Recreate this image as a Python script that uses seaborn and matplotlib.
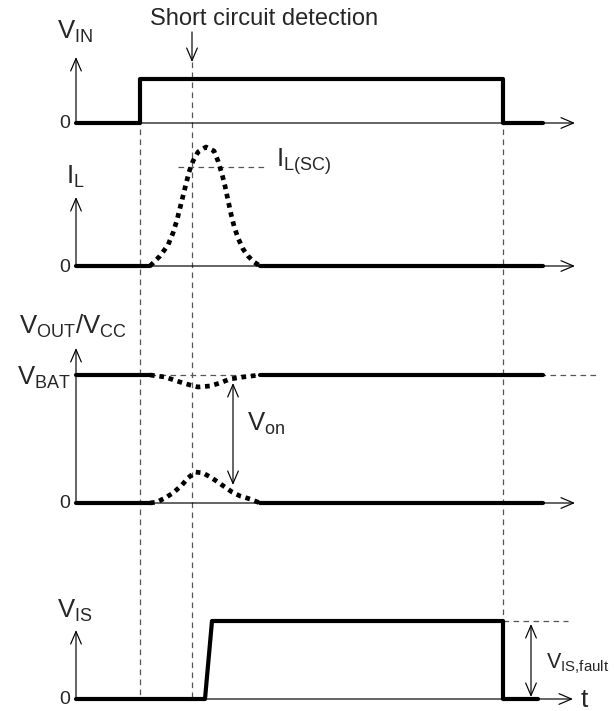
import seaborn as sns
import matplotlib.pyplot as plt
import numpy as np

# time marks (px from the t-axis origin): VIN on, short circuit detected, VIN off, trace end
T_ON, T_DET, T_OFF, T_END = 64, 116, 427, 467

# VIN step
vin_t = [0, T_ON, T_ON, T_OFF, T_OFF, T_END]
vin_v = [0, 0, 44, 44, 0, 0]

# IL short-circuit current pulse (dotted part)
il_t = [74, 84, 92, 97, 101, 104, 107, 110, 113, 117, 122, 130,
        138, 142, 146, 149, 152, 155, 158, 162, 167, 172, 178, 184]
il_v = [0, 10, 21, 33, 46, 58, 70, 82, 94, 105, 114, 119,
        115, 105, 92, 80, 66, 52, 40, 28, 17, 10, 4, 0]
il_sc = 99

# VOUT / VCC
vbat = 128
vout_dip_t = [74, 89, 104, 114, 122, 134, 144, 154, 167, 184]
vout_dip_v = [0, 2, 7, 10, 12, 11, 8, 4, 2, 0]
vcc_t = [74, 81, 89, 97, 106, 112, 119, 127, 136, 146, 156, 164, 174, 184]
vcc_v = [0, 1, 5, 10, 18, 25, 31, 30, 25, 18, 11, 7, 4, 0]

# VIS fault signal
vis_t = [0, 129, 136, T_OFF, T_OFF, T_END - 5]
vis_v = [0, 0, 78, 78, 0, 0]

sns.set_theme(style='white')
plt.rcParams['font.family'] = ['Liberation Sans', 'DejaVu Sans']
plt.rcParams['mathtext.fontset'] = 'custom'
plt.rcParams['mathtext.rm'] = 'Liberation Sans'
plt.rcParams['mathtext.it'] = 'Liberation Sans:italic'

fig = plt.figure(figsize=(6.14, 7.11), dpi=100)
ax = fig.add_axes([0, 0, 1, 1])
ax.set_xlim(0, 614)
ax.set_ylim(711, 0)
ax.axis('off')

X0 = 76
B_VIN, B_IL, B_OUT, B_IS = 123, 266, 503, 699
THICK = 3.0
THIN = 0.85
GREY = '#555555'
DASH = dict(color=GREY, lw=0.9, dashes=(4.5, 3.5))
DOT = dict(color='black', lw=3.4, linestyle=(0, (1, 1)), dash_capstyle='butt')


def arrow(x1, y1, x2, y2, both=False):
    style = '<->' if both else '->'
    ax.annotate('', xy=(x2, y2), xytext=(x1, y1),
                arrowprops=dict(arrowstyle=f'{style},head_length=0.75,head_width=0.32',
                                color='black', lw=THIN, shrinkA=0, shrinkB=0))


def axes_arrows(base, top, tip=575):
    arrow(X0, base, X0, base - top)
    arrow(X0, base, tip, base)


def wave(t, v, base, **kw):
    sns.lineplot(x=X0 + np.array(t), y=base - np.array(v), ax=ax,
                 sort=False, estimator=None, **kw)


# dashed guides
ax.plot([X0 + T_ON] * 2, [79, 697], **DASH)
ax.plot([X0 + T_DET] * 2, [62, 697], **DASH)
ax.plot([X0 + T_OFF] * 2, [79, 622], **DASH)
ax.plot([X0 + 102, X0 + 191], [B_IL - il_sc] * 2, **DASH)
ax.plot([X0 + 74, X0 + 522], [B_OUT - vbat] * 2, **DASH)
ax.plot([X0 + T_OFF, X0 + 492], [B_IS - vis_v[2]] * 2, **DASH)

# axes
axes_arrows(B_VIN, 66)
axes_arrows(B_IL, 69)
axes_arrows(B_OUT, 155)
axes_arrows(B_IS, 69, tip=573)

# VIN
wave(vin_t, vin_v, B_VIN, color='black', lw=THICK)

# IL
wave([0, 74], [0, 0], B_IL, color='black', lw=THICK)
wave([184, T_END], [0, 0], B_IL, color='black', lw=THICK)
wave(il_t, il_v, B_IL, **DOT)

# VOUT/VCC
for lvl in (0, vbat):
    wave([0, 74], [lvl, lvl], B_OUT, color='black', lw=THICK)
    wave([184, T_END], [lvl, lvl], B_OUT, color='black', lw=THICK)
wave(vout_dip_t, vbat - np.array(vout_dip_v), B_OUT, **DOT)
wave(vcc_t, vcc_v, B_OUT, **DOT)

# VIS
wave(vis_t, vis_v, B_IS, color='black', lw=THICK)

# annotations
arrow(X0 + T_DET, 32, X0 + T_DET, 62)
arrow(X0 + 157, 383, X0 + 157, 485, both=True)
arrow(X0 + 455, 624, X0 + 455, 697, both=True)

FS = 18.5
ax.text(264, 25, 'Short circuit detection', fontsize=17, ha='center', va='baseline')
ax.text(57, 39, r'$\mathrm{V_{IN}}$', fontsize=FS, va='baseline')
ax.text(66, 184, r'$\mathrm{I_{L}}$', fontsize=FS, va='baseline')
ax.text(276, 167, r'$\mathrm{I_{L(SC)}}$', fontsize=FS, va='baseline')
ax.text(19, 334, r'$\mathrm{V_{OUT}/V_{CC}}$', fontsize=FS, va='baseline')
ax.text(17, 385, r'$\mathrm{V_{BAT}}$', fontsize=FS, va='baseline')
ax.text(247, 431, r'$\mathrm{V_{on}}$', fontsize=FS, va='baseline')
ax.text(57, 618, r'$\mathrm{V_{IS}}$', fontsize=FS, va='baseline')
ax.text(546, 668, r'$\mathrm{V_{IS{,}fault}}$', fontsize=15.5, va='baseline')
ax.text(581, 707, 't', fontsize=19, va='baseline')
for b in (B_VIN, B_IL, B_OUT, B_IS):
    ax.text(70, b + 1, '0', fontsize=14, ha='right', va='center')

fig.savefig('out.png', dpi=100)
